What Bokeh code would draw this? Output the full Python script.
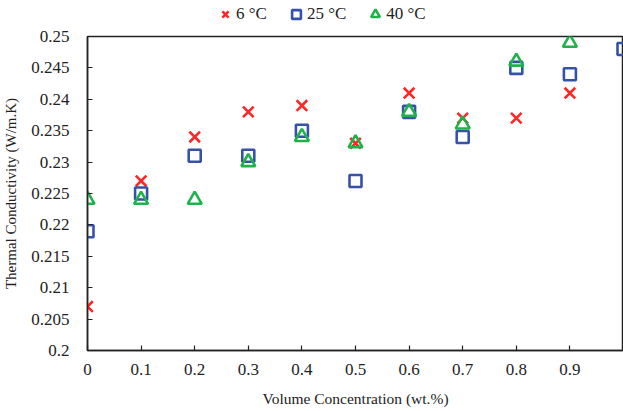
from bokeh.plotting import figure
from bokeh.layouts import column
from bokeh.models import Legend, LegendItem, FixedTicker, Range1d
from bokeh.embed import file_html
from bokeh.resources import INLINE

conc = [0.0, 0.1, 0.2, 0.3, 0.4, 0.5, 0.6, 0.7, 0.8, 0.9]
conc_25 = [0.0, 0.1, 0.2, 0.3, 0.4, 0.5, 0.6, 0.7, 0.8, 0.9, 1.0]
k_6 = [0.207, 0.227, 0.234, 0.238, 0.239, 0.233, 0.241, 0.237, 0.237, 0.241]
k_25 = [0.219, 0.225, 0.231, 0.231, 0.235, 0.227, 0.238, 0.234, 0.245, 0.244, 0.248]
k_40 = [0.224, 0.224, 0.224, 0.230, 0.234, 0.233, 0.238, 0.236, 0.246, 0.249]

x_ticks = [0.0, 0.1, 0.2, 0.3, 0.4, 0.5, 0.6, 0.7, 0.8, 0.9]
x_labels = ["0", "0.1", "0.2", "0.3", "0.4", "0.5", "0.6", "0.7", "0.8", "0.9"]
y_ticks = [0.2, 0.205, 0.21, 0.215, 0.22, 0.225, 0.23, 0.235, 0.24, 0.245, 0.25]
y_labels = ["0.2", "0.205", "0.21", "0.215", "0.22", "0.225", "0.23", "0.235", "0.24", "0.245", "0.25"]
series_names = ["6 °C", "25 °C", "40 °C"]

FONT = "Liberation Serif"
RED = "#FF2626"
BLUE = "#3552A8"
GREEN = "#1FB24A"

# ---- main plot ----
p = figure(width=623, height=383, output_backend="svg", toolbar_location=None,
           x_range=Range1d(0, 1.0), y_range=Range1d(0.2, 0.25),
           min_border_left=86, min_border_right=0, min_border_top=8, min_border_bottom=61)

p.xgrid.visible = False
p.ygrid.visible = False
p.outline_line_color = "#222222"
p.outline_line_width = 1.5

p.scatter(conc, k_6, marker="x", size=15, line_color=RED, line_width=2.6)
p.scatter(conc_25, k_25, marker="square", size=12, line_color=BLUE, fill_color=None, line_width=2.6)
p.scatter(conc, k_40, marker="triangle", size=14, line_color=GREEN, fill_color=None, line_width=2.6)

for ax in (p.xaxis[0], p.yaxis[0]):
    ax.axis_line_color = "#222222"
    ax.axis_line_width = 1.5
    ax.major_tick_in = 5
    ax.major_tick_out = 0
    ax.minor_tick_in = 0
    ax.minor_tick_out = 0
    ax.major_tick_line_color = "#222222"
    ax.major_tick_line_width = 1.2
    ax.major_label_text_font = FONT
    ax.major_label_text_font_size = "17px"
    ax.major_label_text_color = "#222222"
    ax.axis_label_text_font = FONT
    ax.axis_label_text_font_style = "normal"
    ax.axis_label_text_color = "#222222"

p.xaxis.ticker = FixedTicker(ticks=x_ticks)
p.xaxis.major_label_overrides = dict(zip(x_ticks, x_labels))
p.xaxis.major_label_standoff = 13
p.xaxis.axis_label = "Volume Concentration (wt.%)"
p.xaxis.axis_label_text_font_size = "15.5px"
p.xaxis.axis_label_standoff = 12

p.yaxis.ticker = FixedTicker(ticks=y_ticks)
p.yaxis.major_label_overrides = dict(zip(y_ticks, y_labels))
p.yaxis.major_label_standoff = 18
p.yaxis.axis_label = "Thermal Conductivity (W/m.K)"
p.yaxis.axis_label_text_font_size = "15px"
p.yaxis.axis_label_standoff = 9

# ---- legend strip above the plot (same series, drawn outside its visible range) ----
lg = figure(width=623, height=28, output_backend="svg", toolbar_location=None,
            x_range=Range1d(0, 1), y_range=Range1d(10, 11),
            min_border_left=0, min_border_right=0, min_border_top=0, min_border_bottom=0)
lg.axis.visible = False
lg.grid.visible = False
lg.outline_line_color = None
g6 = lg.scatter(conc, k_6, marker="x", size=14, line_color=RED, line_width=2.6)
g25 = lg.scatter(conc_25, k_25, marker="square", size=13, line_color=BLUE, fill_color=None, line_width=2.6)
g40 = lg.scatter(conc, k_40, marker="triangle", size=14, line_color=GREEN, fill_color=None, line_width=2.6)

legend = Legend(items=[LegendItem(label=series_names[0], renderers=[g6]),
                       LegendItem(label=series_names[1], renderers=[g25]),
                       LegendItem(label=series_names[2], renderers=[g40])],
                orientation="horizontal", location=(127, 3),
                border_line_color=None, background_fill_alpha=0,
                label_text_font=FONT, label_text_font_size="17px", label_text_color="#222222",
                glyph_width=22, glyph_height=22, label_height=22, label_standoff=-5,
                spacing=18, padding=0, margin=0)
lg.add_layout(legend)

layout = column(lg, p, spacing=0)
open("out.html", "w").write(file_html(layout, INLINE))
